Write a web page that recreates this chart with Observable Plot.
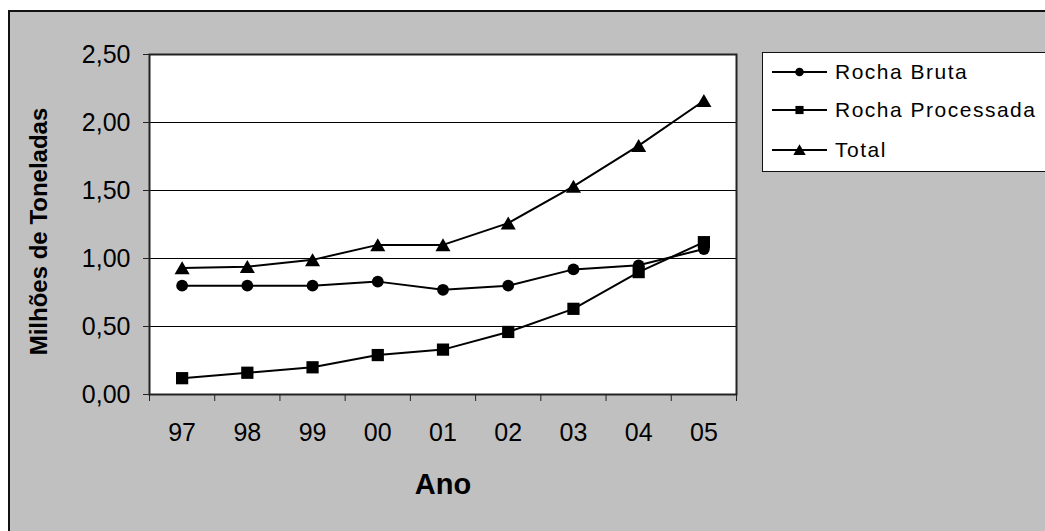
<!DOCTYPE html>
<html>
<head>
<meta charset="utf-8">
<script src="https://cdn.jsdelivr.net/npm/d3@7"></script>
<script src="https://cdn.jsdelivr.net/npm/@observablehq/plot@0.6"></script>
<style>
  html, body { margin: 0; padding: 0; background: #fff; width: 1045px; height: 531px; overflow: hidden; }
  #chart {
    position: absolute; left: 8px; top: 10px;
    width: 1035px; height: 519px;
    border-left: 2px solid #111; border-top: 2px solid #111;
    background: #c0c0c0;
  }
  #legend {
    position: absolute; left: 762px; top: 52px;
    width: 300px; height: 118px;
    border: 1px solid #111; background: #fff;
  }
</style>
</head>
<body>
<div id="chart"></div>
<div id="legend"></div>
<script>
// Produção anual (milhões de toneladas)
const years = ["97", "98", "99", "00", "01", "02", "03", "04", "05"];
const rochaBruta = [0.80, 0.80, 0.80, 0.83, 0.77, 0.80, 0.92, 0.95, 1.07];
const rochaProcessada = [0.12, 0.16, 0.20, 0.29, 0.33, 0.46, 0.63, 0.90, 1.12];
const total = [0.93, 0.94, 0.99, 1.10, 1.10, 1.26, 1.53, 1.83, 2.16];
const seriesNames = ["Rocha Bruta", "Rocha Processada", "Total"];
const yTicks = [0, 0.5, 1, 1.5, 2, 2.5];
const yTitle = "Milhões de Toneladas";
const xTitle = "Ano";

const symbols = {"Rocha Bruta": "circle", "Rocha Processada": "square", "Total": "triangle"};
const radii = {"Rocha Bruta": 5.9, "Rocha Processada": 6.9, "Total": 5.6};

const rows = [];
[rochaBruta, rochaProcessada, total].forEach((vals, s) => {
  vals.forEach((v, i) => rows.push({series: seriesNames[s], i, value: v}));
});

const fmt = d => d.toFixed(2).replace(".", ",");
const font = "'Liberation Sans', Arial, sans-serif";

const chart = Plot.plot({
  width: 1035,
  height: 519,
  marginLeft: 139,
  marginRight: 309,
  marginTop: 42,
  marginBottom: 137,
  style: {background: "transparent", fontFamily: font, color: "#000"},
  x: {type: "linear", domain: [-0.5, years.length - 0.5]},
  y: {domain: [0, 2.5]},
  marks: [
    Plot.frame({fill: "#fff", stroke: "none"}),
    Plot.gridY({ticks: yTicks.slice(1, -1), stroke: "#000", strokeOpacity: 1, strokeWidth: 1}),
    Plot.axisY({ticks: yTicks, tickFormat: fmt, tickSize: 6, tickPadding: 13, fontSize: 25, label: null, stroke: "#222"}),
    // category boundaries carry the tick marks, category centres carry the labels
    Plot.axisX({ticks: d3.range(-0.5, years.length), tickFormat: () => "", tickSize: 7, label: null, stroke: "#222"}),
    Plot.axisX({ticks: d3.range(years.length), tickFormat: i => years[i], tickSize: 0, tickPadding: 29, fontSize: 25, label: null}),
    Plot.line(rows, {x: "i", y: "value", z: "series", stroke: "#000", strokeWidth: 2}),
    ...seriesNames.map(name => Plot.dot(rows.filter(d => d.series === name), {
      x: "i", y: "value", symbol: symbols[name], r: radii[name], fill: "#000",
      dy: name === "Total" ? 2 : 0
    })),
    Plot.frame({stroke: "#222", strokeWidth: 2}),
    Plot.text([yTitle], {frameAnchor: "left", textAnchor: "middle", dx: -110, dy: 7, rotate: -90, fontSize: 24, fontWeight: "bold"}),
    Plot.text([xTitle], {frameAnchor: "bottom", dy: 99, fontSize: 29, fontWeight: "bold"})
  ]
});
document.getElementById("chart").append(chart);

// Legend
const leg = d3.select("#legend").append("svg")
  .attr("width", 300).attr("height", 118)
  .style("font-family", font);
const rowY = [19, 57, 97];
seriesNames.forEach((name, k) => {
  const g = leg.append("g").attr("transform", `translate(0,${rowY[k]})`);
  g.append("line").attr("x1", 9).attr("x2", 64).attr("y1", 0).attr("y2", 0)
    .attr("stroke", "#000").attr("stroke-width", 2);
  const sym = {circle: d3.symbolCircle, square: d3.symbolSquare, triangle: d3.symbolTriangle}[symbols[name]];
  const r = {circle: 4.3, square: 4.6, triangle: 4.6}[symbols[name]];
  g.append("path").attr("transform", `translate(36.5,${symbols[name] === "triangle" ? 1.5 : 0})`)
    .attr("d", d3.symbol(sym, Math.PI * r * r)()).attr("fill", "#000");
  g.append("text").attr("x", 72).attr("y", 0).attr("dy", "0.35em")
    .attr("font-size", 21).attr("letter-spacing", 1.5).text(name);
});
</script>
</body>
</html>
